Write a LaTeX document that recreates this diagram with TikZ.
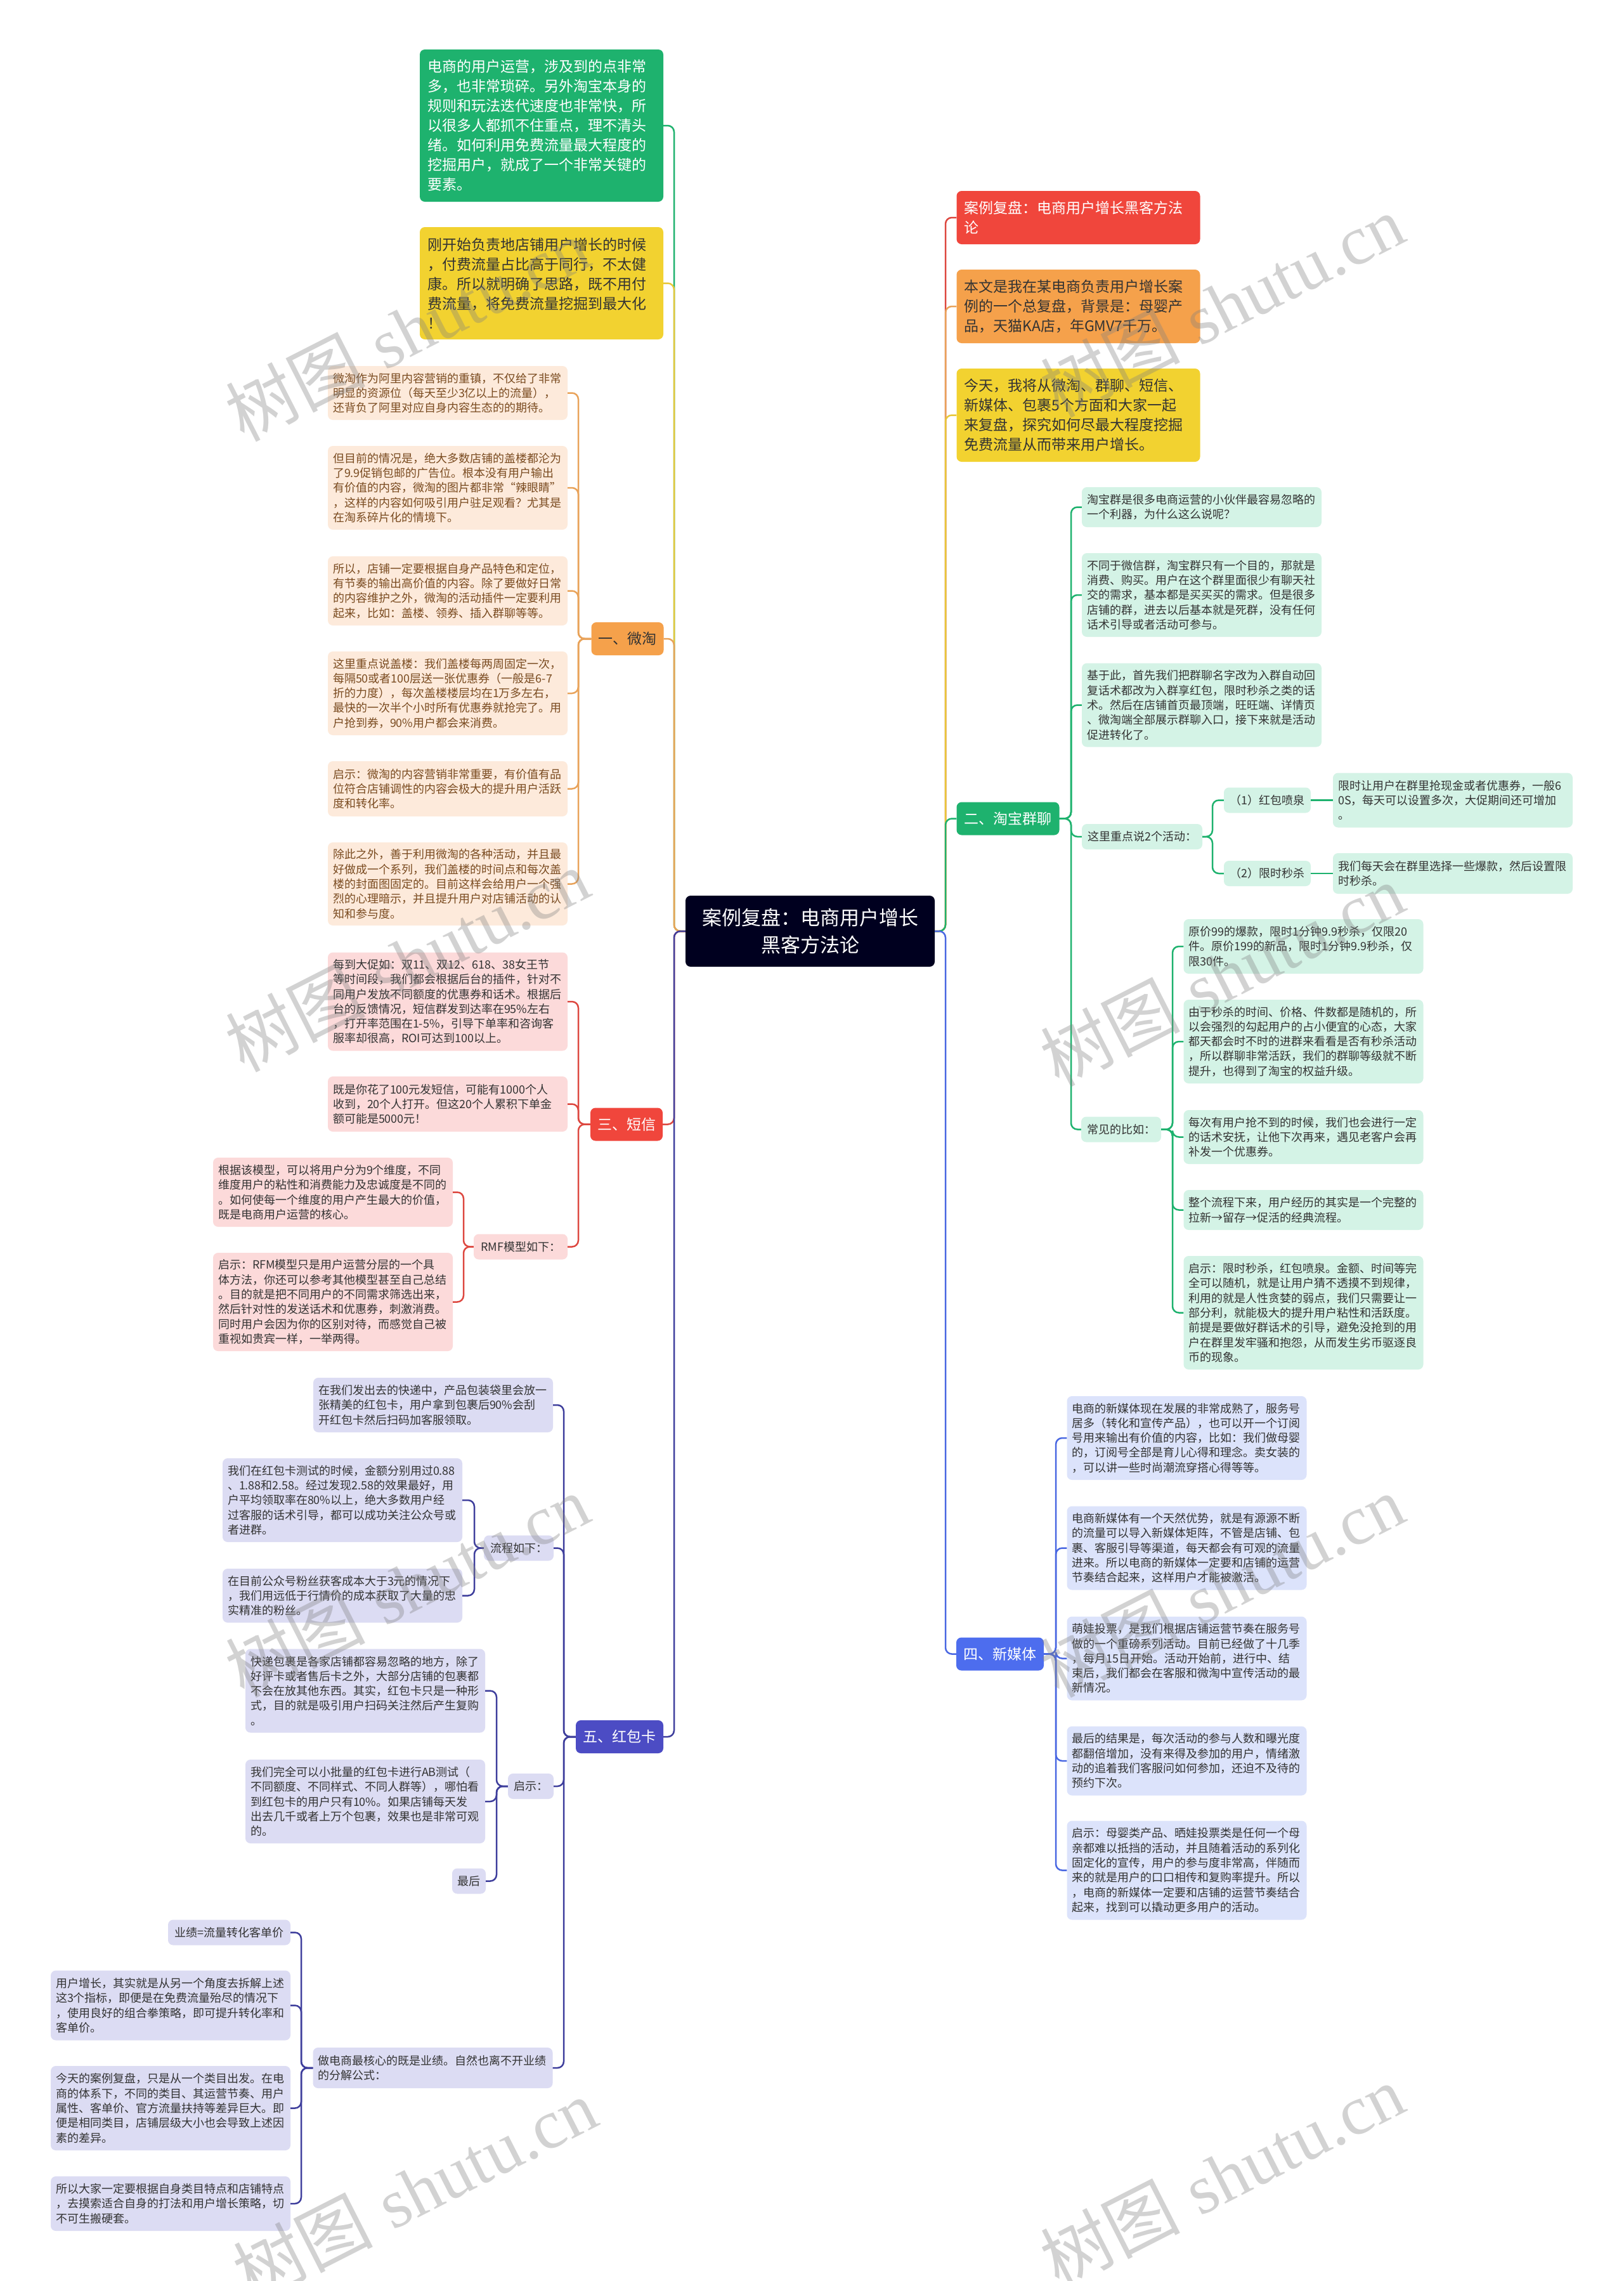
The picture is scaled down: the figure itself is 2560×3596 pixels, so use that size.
\documentclass[tikz,border=0pt]{standalone}
\usepackage{fontspec}
\setmainfont{Noto Sans CJK SC}
\newfontfamily\wmserif{Liberation Serif}
\definecolor{cG}{HTML}{1EB26E}
\definecolor{cGl}{HTML}{D4F3E6}
\definecolor{cY}{HTML}{F2D230}
\definecolor{cYline}{HTML}{E8C83A}
\definecolor{cO}{HTML}{F5A14B}
\definecolor{cOl}{HTML}{FDEADB}
\definecolor{cOt}{HTML}{7A4B20}
\definecolor{cOline}{HTML}{E9A35A}
\definecolor{cR}{HTML}{F0463C}
\definecolor{cRl}{HTML}{FCDADA}
\definecolor{cRline}{HTML}{DD4840}
\definecolor{cI}{HTML}{4C4CC4}
\definecolor{cIl}{HTML}{DCDCF3}
\definecolor{cIline}{HTML}{3E3E9C}
\definecolor{cB}{HTML}{4D6DEE}
\definecolor{cBl}{HTML}{DCE3FB}
\definecolor{cBline}{HTML}{4A68E2}
\definecolor{cCtr}{HTML}{00001F}
\definecolor{cDark}{HTML}{333333}
\newcommand\LCon[4]{\draw[#1] (#2.west) -- (#2.west -| #3) |- (#4.east);}
\newcommand\RCon[4]{\draw[#1] (#2.east) -- (#2.east -| #3) |- (#4.west);}
\hyphenpenalty=10000
\exhyphenpenalty=10000
\tikzset{
  big/.style={rounded corners=8pt, inner xsep=12pt, inner ysep=0pt, align=left, text width=360pt, font=\fontsize{23}{31}\selectfont},
  ctrs/.style={rounded corners=8pt, fill=cCtr, text=white, minimum width=393pt, minimum height=112pt, align=center, font=\fontsize{31}{43}\selectfont},
  br/.style={rounded corners=8pt, inner xsep=11pt, inner ysep=0pt, minimum height=52pt, align=center, font=\fontsize{23}{28}\selectfont},
  leaf/.style={rounded corners=8pt, inner xsep=8pt, inner ysep=0pt, align=left, text width=362pt, font=\fontsize{18}{23.3}\selectfont},
  lO/.style={leaf, fill=cOl, text=cOt},
  lG/.style={leaf, fill=cGl, text=cDark},
  lR/.style={leaf, fill=cRl, text=cDark},
  lI/.style={leaf, fill=cIl, text=cDark},
  lB/.style={leaf, fill=cBl, text=cDark},
  tag/.style={rounded corners=8pt, inner xsep=8pt, inner ysep=0pt, minimum height=40pt, align=center, text=cDark, font=\fontsize{18}{23.3}\selectfont},
  lnG/.style={draw=cG, line width=2.5pt, rounded corners=10pt},
  lnY/.style={draw=cYline, line width=2.5pt, rounded corners=10pt},
  lnO/.style={draw=cOline, line width=2.5pt, rounded corners=10pt},
  lnR/.style={draw=cRline, line width=2.5pt, rounded corners=10pt},
  lnI/.style={draw=cIline, line width=2.5pt, rounded corners=10pt},
  lnB/.style={draw=cBline, line width=2.5pt, rounded corners=10pt},
  wm/.style={text=gray, opacity=0.35, rotate=27, font=\fontsize{110}{110}\selectfont}
}
\begin{document}
\begin{tikzpicture}[x=1pt,y=-1pt]
\useasboundingbox (0,0) rectangle (2560,3596);
\fill[white] (0,0) rectangle (2560,3596);
% trunk coordinates
\coordinate (tL) at (1063,0);
\coordinate (tR) at (1491,0);
\coordinate (tW) at (912,0);
\coordinate (tS3) at (731,0);
\coordinate (tH) at (889,0);
\coordinate (tH2) at (748,0);
\coordinate (tH3) at (783,0);
\coordinate (tH4) at (475,0);
\coordinate (tQ) at (1689,0);
\coordinate (tQ4) at (1912,0);
\coordinate (tQ5) at (1849,0);
\coordinate (tN) at (1665,0);

% center
\node[ctrs] (ctr) at (1277.5,1468) {案例复盘：电商用户增长\\黑客方法论};

% top left
\node[big, fill=cG, text=white, minimum height=240pt] (gbox) at (854,198) {电商的用户运营，涉及到的点非常\\多，也非常琐碎。另外淘宝本身的\\规则和玩法迭代速度也非常快，所\\以很多人都抓不住重点，理不清头\\绪。如何利用免费流量最大程度的\\挖掘用户，就成了一个非常关键的\\要素。};
\node[big, fill=cY, text=cDark, minimum height=177pt] (ybox) at (854,446.5) {刚开始负责地店铺用户增长的时候\\，付费流量占比高于同行，不太健\\康。所以就明确了思路，既不用付\\费流量，将免费流量挖掘到最大化\\！};

% top right
\node[big, fill=cR, text=white, minimum height=84pt] (rbox) at (1700.5,343) {案例复盘：电商用户增长黑客方法\\论};
\node[big, fill=cO, text=cDark, minimum height=116pt] (obox) at (1700.5,483) {本文是我在某电商负责用户增长案\\例的一个总复盘，背景是：母婴产\\品，天猫KA店，年GMV7千万。};
\node[big, fill=cY, text=cDark, minimum height=147pt] (y2box) at (1700.5,654.5) {今天，我将从微淘、群聊、短信、\\新媒体、包裹5个方面和大家一起\\来复盘，探究如何尽最大程度挖掘\\免费流量从而带来用户增长。};

% branch nodes
\node[br, fill=cO, text=cDark, minimum width=114pt] (weitao) at (989.5,1007) {一、微淘};
\node[br, fill=cR, text=white, minimum width=114pt] (duanxin) at (988,1772.5) {三、短信};
\node[br, fill=cI, text=white, minimum width=138pt] (hongbao) at (977,2738) {五、红包卡};
\node[br, fill=cG, text=white, minimum width=162pt] (qunliao) at (1589.5,1290.5) {二、淘宝群聊};
\node[br, fill=cB, text=white, minimum width=138pt] (xinmeiti) at (1577,2607.5) {四、新媒体};

% weitao leaves
\node[lO, minimum height=85pt] (w1) at (706,619.5) {微淘作为阿里内容营销的重镇，不仅给了非常\\明显的资源位（每天至少3亿以上的流量），\\还背负了阿里对应自身内容生态的的期待。};
\node[lO, minimum height=132pt] (w2) at (706,769) {但目前的情况是，绝大多数店铺的盖楼都沦为\\了9.9促销包邮的广告位。根本没有用户输出\\有价值的内容，微淘的图片都非常“辣眼睛”\\，这样的内容如何吸引用户驻足观看？尤其是\\在淘系碎片化的情境下。};
\node[lO, minimum height=109pt] (w3) at (706,931.5) {所以，店铺一定要根据自身产品特色和定位，\\有节奏的输出高价值的内容。除了要做好日常\\的内容维护之外，微淘的活动插件一定要利用\\起来，比如：盖楼、领券、插入群聊等等。};
\node[lO, minimum height=132pt] (w4) at (706,1093) {这里重点说盖楼：我们盖楼每两周固定一次，\\每隔50或者100层送一张优惠券（一般是6-7\\折的力度），每次盖楼楼层均在1万多左右，\\最快的一次半个小时所有优惠券就抢完了。用\\户抢到券，90\%用户都会来消费。};
\node[lO, minimum height=87pt] (w5) at (706,1243.5) {启示：微淘的内容营销非常重要，有价值有品\\位符合店铺调性的内容会极大的提升用户活跃\\度和转化率。};
\node[lO, minimum height=131pt] (w6) at (706,1393.5) {除此之外，善于利用微淘的各种活动，并且最\\好做成一个系列，我们盖楼的时间点和每次盖\\楼的封面图固定的。目前这样会给用户一个强\\烈的心理暗示，并且提升用户对店铺活动的认\\知和参与度。};

% duanxin leaves
\node[lR, minimum height=155pt] (s1) at (706,1579) {每到大促如：双11、双12、618、38女王节\\等时间段，我们都会根据后台的插件，针对不\\同用户发放不同额度的优惠券和话术。根据后\\台的反馈情况，短信群发到达率在95\%左右\\，打开率范围在1-5\%，引导下单率和咨询客\\服率却很高，ROI可达到100以上。};
\node[lR, minimum height=87pt] (s2) at (706,1740.5) {既是你花了100元发短信，可能有1000个人\\收到，20个人打开。但这20个人累积下单金\\额可能是5000元！};
\node[tag, fill=cRl, minimum width=148pt] (s3) at (821,1965.5) {RMF模型如下：};
\node[lR, minimum height=109pt] (s3a) at (525,1879.5) {根据该模型，可以将用户分为9个维度，不同\\维度用户的粘性和消费能力及忠诚度是不同的\\。如何使每一个维度的用户产生最大的价值，\\既是电商用户运营的核心。};
\node[lR, minimum height=155pt] (s3b) at (525,2052.5) {启示：RFM模型只是用户运营分层的一个具\\体方法，你还可以参考其他模型甚至自己总结\\。目的就是把不同用户的不同需求筛选出来，\\然后针对性的发送话术和优惠券，刺激消费。\\同时用户会因为你的区别对待，而感觉自己被\\重视如贵宾一样，一举两得。};

% hongbao leaves
\node[lI, minimum height=86pt] (h1) at (683,2215) {在我们发出去的快递中，产品包装袋里会放一\\张精美的红包卡，用户拿到包裹后90\%会刮\\开红包卡然后扫码加客服领取。};
\node[tag, fill=cIl, minimum width=110pt] (h2) at (818,2440.5) {流程如下：};
\node[lI, minimum height=132pt] (h2a) at (540,2365) {我们在红包卡测试的时候，金额分别用过0.88\\、1.88和2.58。经过发现2.58的效果最好，用\\户平均领取率在80\%以上，绝大多数用户经\\过客服的话术引导，都可以成功关注公众号或\\者进群。};
\node[lI, minimum height=85pt] (h2b) at (540,2515.5) {在目前公众号粉丝获客成本大于3元的情况下\\，我们用远低于行情价的成本获取了大量的忠\\实精准的粉丝。};
\node[tag, fill=cIl, minimum width=72pt] (h3) at (837,2816) {启示：};
\node[lI, minimum height=132pt] (h3a) at (576,2665.5) {快递包裹是各家店铺都容易忽略的地方，除了\\好评卡或者售后卡之外，大部分店铺的包裹都\\不会在放其他东西。其实，红包卡只是一种形\\式，目的就是吸引用户扫码关注然后产生复购\\。};
\node[lI, minimum height=132pt] (h3b) at (576,2840) {我们完全可以小批量的红包卡进行AB测试（\\不同额度、不同样式、不同人群等），哪怕看\\到红包卡的用户只有10\%。如果店铺每天发\\出去几千或者上万个包裹，效果也是非常可观\\的。};
\node[tag, fill=cIl, minimum width=53pt] (h3c) at (739.5,2965.5) {最后};
\node[lI, minimum height=64pt] (h4) at (682.5,3260) {做电商最核心的既是业绩。自然也离不开业绩\\的分解公式：};
\node[tag, fill=cIl, minimum width=193pt] (h4a) at (361.5,3046.5) {业绩=流量转化客单价};
\node[lI, minimum height=110pt] (h4b) at (269,3161.5) {用户增长，其实就是从另一个角度去拆解上述\\这3个指标，即便是在免费流量殆尽的情况下\\，使用良好的组合拳策略，即可提升转化率和\\客单价。};
\node[lI, minimum height=133pt] (h4c) at (269,3323.5) {今天的案例复盘，只是从一个类目出发。在电\\商的体系下，不同的类目、其运营节奏、用户\\属性、客单价、官方流量扶持等差异巨大。即\\便是相同类目，店铺层级大小也会导致上述因\\素的差异。};
\node[lI, minimum height=86pt] (h4d) at (269,3474) {所以大家一定要根据自身类目特点和店铺特点\\，去摸索适合自身的打法和用户增长策略，切\\不可生搬硬套。};

% qunliao leaves
\node[lG, minimum height=63pt] (q1) at (1895,799.5) {淘宝群是很多电商运营的小伙伴最容易忽略的\\一个利器，为什么这么说呢？};
\node[lG, minimum height=132pt] (q2) at (1895,938) {不同于微信群，淘宝群只有一个目的，那就是\\消费、购买。用户在这个群里面很少有聊天社\\交的需求，基本都是买买买的需求。但是很多\\店铺的群，进去以后基本就是死群，没有任何\\话术引导或者活动可参与。};
\node[lG, minimum height=132pt] (q3) at (1895,1111.5) {基于此，首先我们把群聊名字改为入群自动回\\复话术都改为入群享红包，限时秒杀之类的话\\术。然后在店铺首页最顶端，旺旺端、详情页\\、微淘端全部展示群聊入口，接下来就是活动\\促进转化了。};
\node[tag, fill=cGl, minimum width=190pt] (q4) at (1801,1319) {这里重点说2个活动：};
\node[tag, fill=cGl, minimum width=126pt] (q5) at (1768,1780.5) {常见的比如：};
\node[tag, fill=cGl, minimum width=137pt] (q4a) at (1998.5,1261.5) {（1）红包喷泉};
\node[tag, fill=cGl, minimum width=137pt] (q4b) at (1998.5,1377) {（2）限时秒杀};
\node[lG, minimum height=86pt] (q4a1) at (2291,1261.5) {限时让用户在群里抢现金或者优惠券，一般6\\0S，每天可以设置多次，大促期间还可增加\\。};
\node[lG, minimum height=64pt] (q4b1) at (2291,1377) {我们每天会在群里选择一些爆款，然后设置限\\时秒杀。};
\node[lG, minimum height=86pt] (c1) at (2055.5,1492) {原价99的爆款，限时1分钟9.9秒杀，仅限20\\件。原价199的新品，限时1分钟9.9秒杀，仅\\限30件。};
\node[lG, minimum height=132pt] (c2) at (2055.5,1642) {由于秒杀的时间、价格、件数都是随机的，所\\以会强烈的勾起用户的占小便宜的心态，大家\\都天都会时不时的进群来看看是否有秒杀活动\\，所以群聊非常活跃，我们的群聊等级就不断\\提升，也得到了淘宝的权益升级。};
\node[lG, minimum height=85pt] (c3) at (2055.5,1792.5) {每次有用户抢不到的时候，我们也会进行一定\\的话术安抚，让他下次再来，遇见老客户会再\\补发一个优惠券。};
\node[lG, minimum height=63pt] (c4) at (2055.5,1907.5) {整个流程下来，用户经历的其实是一个完整的\\拉新→留存→促活的经典流程。};
\node[lG, minimum height=179pt] (c5) at (2055.5,2069.5) {启示：限时秒杀，红包喷泉。金额、时间等完\\全可以随机，就是让用户猜不透摸不到规律，\\利用的就是人性贪婪的弱点，我们只需要让一\\部分利，就能极大的提升用户粘性和活跃度。\\前提是要做好群话术的引导，避免没抢到的用\\户在群里发牢骚和抱怨，从而发生劣币驱逐良\\币的现象。};

% xinmeiti leaves
\node[lB, minimum height=132pt] (n1) at (1871.5,2267) {电商的新媒体现在发展的非常成熟了，服务号\\居多（转化和宣传产品），也可以开一个订阅\\号用来输出有价值的内容，比如：我们做母婴\\的，订阅号全部是育儿心得和理念。卖女装的\\，可以讲一些时尚潮流穿搭心得等等。};
\node[lB, minimum height=132pt] (n2) at (1871.5,2440.5) {电商新媒体有一个天然优势，就是有源源不断\\的流量可以导入新媒体矩阵，不管是店铺、包\\裹、客服引导等渠道，每天都会有可观的流量\\进来。所以电商的新媒体一定要和店铺的运营\\节奏结合起来，这样用户才能被激活。};
\node[lB, minimum height=132pt] (n3) at (1871.5,2614.5) {萌娃投票，是我们根据店铺运营节奏在服务号\\做的一个重磅系列活动。目前已经做了十几季\\，每月15日开始。活动开始前，进行中、结\\束后，我们都会在客服和微淘中宣传活动的最\\新情况。};
\node[lB, minimum height=109pt] (n4) at (1871.5,2776) {最后的结果是，每次活动的参与人数和曝光度\\都翻倍增加，没有来得及参加的用户，情绪激\\动的追着我们客服问如何参加，还迫不及待的\\预约下次。};
\node[lB, minimum height=156pt] (n5) at (1871.5,2948.5) {启示：母婴类产品、晒娃投票类是任何一个母\\亲都难以抵挡的活动，并且随着活动的系列化\\固定化的宣传，用户的参与度非常高，伴随而\\来的就是用户的口口相传和复购率提升。所以\\，电商的新媒体一定要和店铺的运营节奏结合\\起来，找到可以撬动更多用户的活动。};

% main connectors
\LCon{lnG}{ctr}{tL}{gbox}
\LCon{lnY}{ctr}{tL}{ybox}
\LCon{lnO}{ctr}{tL}{weitao}
\LCon{lnR}{ctr}{tL}{duanxin}
\LCon{lnI}{ctr}{tL}{hongbao}
\RCon{lnR}{ctr}{tR}{rbox}
\RCon{lnO}{ctr}{tR}{obox}
\RCon{lnY}{ctr}{tR}{y2box}
\RCon{lnG}{ctr}{tR}{qunliao}
\RCon{lnB}{ctr}{tR}{xinmeiti}

% weitao
\foreach \n in {w1,w2,w3,w4,w5,w6}{\LCon{lnO}{weitao}{tW}{\n}}
% duanxin
\foreach \n in {s1,s2,s3}{\LCon{lnR}{duanxin}{tW}{\n}}
\foreach \n in {s3a,s3b}{\LCon{lnR}{s3}{tS3}{\n}}
% hongbao
\foreach \n in {h1,h2,h3,h4}{\LCon{lnI}{hongbao}{tH}{\n}}
\foreach \n in {h2a,h2b}{\LCon{lnI}{h2}{tH2}{\n}}
\foreach \n in {h3a,h3b,h3c}{\LCon{lnI}{h3}{tH3}{\n}}
\foreach \n in {h4a,h4b,h4c,h4d}{\LCon{lnI}{h4}{tH4}{\n}}
% qunliao
\foreach \n in {q1,q2,q3,q4,q5}{\RCon{lnG}{qunliao}{tQ}{\n}}
\foreach \n in {q4a,q4b}{\RCon{lnG}{q4}{tQ4}{\n}}
\draw[lnG] (q4a.east) -- (q4a1.west);
\draw[lnG] (q4b.east) -- (q4b1.west);
\foreach \n in {c1,c2,c3,c4,c5}{\RCon{lnG}{q5}{tQ5}{\n}}
% xinmeiti
\foreach \n in {n1,n2,n3,n4,n5}{\RCon{lnB}{xinmeiti}{tN}{\n}}

% watermarks
\node[wm] (wm1) at (642,520) {树图\hspace{30pt}{\wmserif shutu.cn}};
\node[wm] (wm2) at (1927,482) {树图\hspace{30pt}{\wmserif shutu.cn}};
\node[wm] (wm3) at (642,1514) {树图\hspace{30pt}{\wmserif shutu.cn}};
\node[wm] (wm4) at (1927,1537) {树图\hspace{30pt}{\wmserif shutu.cn}};
\node[wm] (wm5) at (642,2500) {树图\hspace{30pt}{\wmserif shutu.cn}};
\node[wm] (wm6) at (1927,2500) {树图\hspace{30pt}{\wmserif shutu.cn}};
\node[wm] (wm7) at (654,3452) {树图\hspace{30pt}{\wmserif shutu.cn}};
\node[wm] (wm8) at (1927,3430) {树图\hspace{30pt}{\wmserif shutu.cn}};
\end{tikzpicture}
\end{document}
